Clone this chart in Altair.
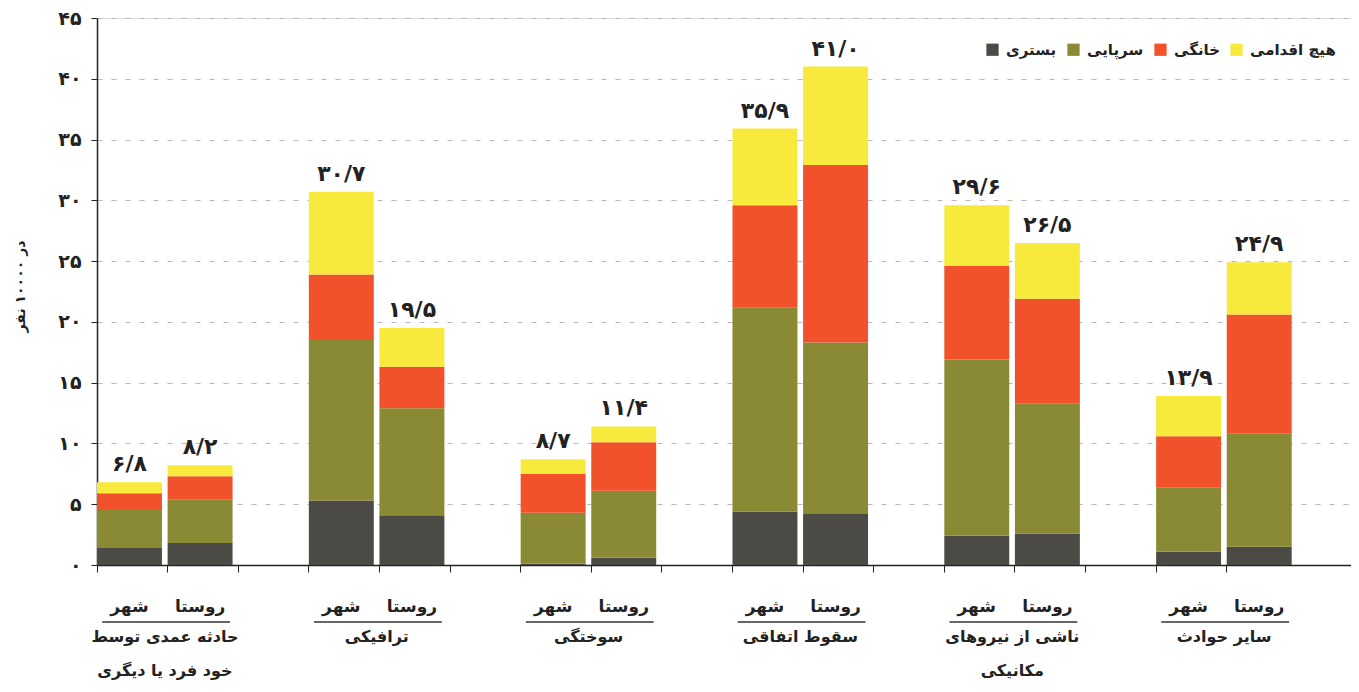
import altair as alt
import pandas as pd

# ---------------- data ----------------
causes = ["حادثه عمدی توسط\nخود فرد یا دیگری", "ترافیکی", "سوختگی",
          "سقوط اتفاقی", "ناشی از نیروهای\nمکانیکی", "سایر حوادث"]
areas = ["شهر", "روستا"]
types = ["بستری", "سرپایی", "خانگی", "هیچ اقدامی"]
colors = ["#4b4a44", "#8a8a34", "#f1522b", "#f7ea3d"]

# per cause: [شهر, روستا]
inpatient = [[1.4, 1.8], [5.3, 4.1], [0.1, 0.6], [4.4, 4.2], [2.4, 2.6], [1.1, 1.5]]
outpatient = [[3.2, 3.6], [13.2, 8.8], [4.2, 5.5], [16.8, 14.1], [14.5, 10.7], [5.3, 9.3]]
home = [[1.3, 1.9], [5.4, 3.4], [3.2, 4.0], [8.4, 14.6], [7.7, 8.6], [4.2, 9.8]]
no_action = [[0.9, 0.9], [6.8, 3.2], [1.2, 1.3], [6.3, 8.1], [5.0, 4.6], [3.3, 4.3]]
totals = [[6.8, 8.2], [30.7, 19.5], [8.7, 11.4], [35.9, 41.0], [29.6, 26.5], [13.9, 24.9]]

y_ticks = [0, 5, 10, 15, 20, 25, 30, 35, 40, 45]
y_title = "در ۱۰۰۰۰ نفر"

# ---------------- tables ----------------
fa = str.maketrans("0123456789.", "۰۱۲۳۴۵۶۷۸۹/")

slots = []
for g in range(len(causes)):
    slots += [f"s{g}a", f"s{g}b"]
    if g < len(causes) - 1:
        slots.append(f"s{g}c")

series = [inpatient, outpatient, home, no_action]
rows, tot_rows, grp_rows = [], [], []
for g, cause in enumerate(causes):
    for a, area in enumerate(areas):
        slot = f"s{g}{'ab'[a]}"
        for k, t in enumerate(types):
            rows.append({"slot": slot, "type": t, "k": k, "value": series[k][g][a]})
        tot_rows.append({"slot": slot, "area": area, "total": totals[g][a],
                         "label": f"{totals[g][a]:.1f}".translate(fa)})
    grp_rows.append({"left": f"s{g}a", "right": f"s{g}b", "cause": cause})

df = pd.DataFrame(rows)
dt = pd.DataFrame(tot_rows)
dg = pd.DataFrame(grp_rows)

FONT = "DejaVu Sans"

xscale = alt.Scale(domain=slots, paddingInner=0.08, paddingOuter=0.42, align=0)
yscale = alt.Scale(domain=[0, 45], nice=False)

label_expr = "datum.label"
for d, p in zip("0123456789", "۰۱۲۳۴۵۶۷۸۹"):
    label_expr = f"replace({label_expr}, '{d}', '{p}')"

bars = alt.Chart(df).mark_bar().encode(
    x=alt.X("slot:N", scale=xscale,
            axis=alt.Axis(title=None, labels=False, bandPosition=0, tickSize=7,
                          tickColor="#222", domainColor="#222", domainWidth=1.5)),
    y=alt.Y("value:Q", stack="zero", scale=yscale,
            axis=alt.Axis(values=y_ticks, labelExpr=label_expr, title=y_title,
                          titleAngle=-90, titleX=-77, titleY=268, titleAlign="center",
                          titleBaseline="middle", titleFont=FONT, titleFontSize=14,
                          titleFontWeight="bold", titleColor="#222",
                          labelFont=FONT, labelFontSize=19, labelFontWeight="bold",
                          labelColor="#222", labelPadding=10, tickSize=6,
                          tickColor="#222", domainColor="#222", domainWidth=1.5,
                          grid=True, gridColor="#b8b8b8", gridDash=[5, 9],
                          gridWidth=1)),
    color=alt.Color("type:N", scale=alt.Scale(domain=types, range=colors),
                    legend=alt.Legend(orient="none", legendX=888, legendY=24,
                                      direction="horizontal", title=None,
                                      symbolType="square", symbolSize=150,
                                      symbolStrokeWidth=0, labelFont=FONT,
                                      labelFontSize=15, labelFontWeight="bold",
                                      labelColor="#222", columnPadding=9,
                                      labelOffset=6)),
    order=alt.Order("k:Q", sort="ascending"),
)

values = alt.Chart(dt).mark_text(baseline="bottom", dy=-6, font=FONT, fontSize=22,
                                 fontWeight="bold", color="#222").encode(
    x=alt.X("slot:N", scale=xscale),
    y=alt.Y("total:Q", scale=yscale),
    text="label:N",
)

area_lbl = alt.Chart(dt).mark_text(baseline="middle", font=FONT, fontSize=17,
                                   fontWeight="bold", color="#222").encode(
    x=alt.X("slot:N", scale=xscale),
    y=alt.value(589),
    text="area:N",
)

underline = alt.Chart(dg).mark_rule(color="#333", strokeWidth=1.3).encode(
    x=alt.X("left:N", scale=xscale, bandPosition=0.08),
    x2=alt.X2("right", bandPosition=0.96),
    y=alt.value(604),
)

cause_lbl = alt.Chart(dg).mark_text(baseline="middle", align="center", font=FONT,
                                    fontSize=16, fontWeight="bold", color="#222",
                                    lineBreak="\n", lineHeight=34, dx=3).encode(
    x=alt.X("left:N", scale=xscale, bandPosition=1),
    y=alt.value(619),
    text="cause:N",
)

chart = alt.layer(bars, values, area_lbl, underline, cause_lbl).properties(
    width=1254, height=547,
    autosize=alt.AutoSizeParams(type="none"),
    padding={"left": 89, "top": 10, "right": 0, "bottom": 119},
).configure_view(stroke=None).configure(background="white")

chart.save("out.html", embed_options={"renderer": "svg", "actions": False})
